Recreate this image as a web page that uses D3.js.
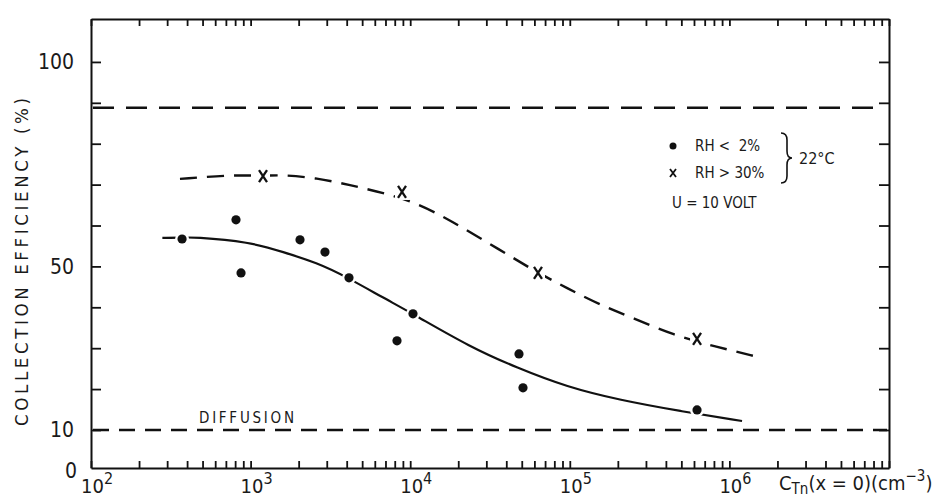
<!DOCTYPE html>
<html><head><meta charset="utf-8">
<script src="https://cdn.jsdelivr.net/npm/d3@7"></script>
<style>
html,body{margin:0;padding:0;background:#fff;}
svg{display:block;}
text{font-family:"Liberation Sans Narrow","DejaVu Sans Condensed","Liberation Sans",sans-serif;fill:#1a1a1a;}
</style></head>
<body>
<svg id="chart" width="949" height="498"></svg>
<script>
// ---- data ----
const dryConc = [372, 810, 871, 2040, 2925, 4135, 8265, 10410, 48050, 50900, 627000];
const dryEff  = [56.7, 61.4, 48.4, 56.5, 53.5, 47.2, 31.8, 38.4, 28.6, 20.3, 14.9];
const wetConc = [1196, 8885, 63200, 627000];
const wetEff  = [72.1, 68.2, 48.4, 32.3];
const dryCurveConc = [280, 370, 435, 990, 1600, 2600, 4000, 6800, 10400, 23700, 46700, 96000, 206000, 490000, 1200000];
const dryCurveEff  = [57, 57, 57.2, 56, 53.5, 50.9, 47.4, 42.3, 38.4, 30.3, 25.2, 20.5, 17.3, 14.6, 12.2];
const wetCurveConc = [361, 776, 1197, 1595, 2606, 4194, 6756, 11040, 17770, 36600, 63200, 96100, 154700, 248900, 443400, 835800, 1490000];
const wetCurveEff  = [71.4, 72.4, 72.1, 72.4, 71.6, 69.9, 68.0, 65.5, 61.3, 54.0, 48.4, 44.7, 40.6, 37.4, 33.2, 30.3, 27.9];
const upperLimit = 88.8;
const diffusionLimit = 10;
const xDecades = [2, 3, 4, 5, 6];
const yTickValues = [10, 20, 30, 40, 50, 60, 70, 80, 90, 100];
const yLabelValues = [0, 10, 50, 100];
const legendLines = ["RH <  2%", "RH > 30%"];

// ---- layout ----
const svg = d3.select("#chart");
const L = 91, R = 889, T = 19, B = 468;
const x = d3.scaleLog().domain([1e2, 1e7]).range([L, R]);
const y = d3.scaleLinear().domain([0.7, 110.5]).range([B, T]);

const minor = [];
for (let e = 2; e < 7; e++) for (let m = 1; m <= 9; m++) minor.push(m * Math.pow(10, e));
minor.push(1e7);

function styleAxis(g){
  g.selectAll(".domain").attr("stroke", "#111").attr("stroke-width", 2);
  g.selectAll(".tick line").attr("stroke", "#111").attr("stroke-width", 1.8);
  g.selectAll(".tick text").remove();
}
svg.append("g").attr("transform", `translate(0,${B})`)
  .call(d3.axisBottom(x).tickValues(minor).tickSize(-7).tickSizeOuter(0).tickFormat(""))
  .call(styleAxis);
svg.append("g").attr("transform", `translate(0,${T})`)
  .call(d3.axisTop(x).tickValues(minor).tickSize(-7).tickSizeOuter(0).tickFormat(""))
  .call(styleAxis);
svg.append("g").attr("transform", `translate(${L},0)`)
  .call(d3.axisLeft(y).tickValues(yTickValues).tickSize(-10).tickSizeOuter(0).tickFormat(""))
  .call(styleAxis);
svg.append("g").attr("transform", `translate(${R},0)`)
  .call(d3.axisRight(y).tickValues(yTickValues).tickSize(-10).tickSizeOuter(0).tickFormat(""))
  .call(styleAxis);

// y tick labels
svg.append("g").selectAll("text").data(yLabelValues).join("text")
  .attr("x", d => d === 0 ? 77 : 74)
  .attr("y", d => y(d) + 7.5)
  .attr("text-anchor", "end")
  .attr("font-size", 21)
  .text(d => d);

// x tick labels 10^n
const xl = svg.append("g").selectAll("text").data(xDecades).join("text")
  .attr("x", d => x(Math.pow(10, d)) - 10)
  .attr("y", 493)
  .attr("font-size", 20);
xl.append("tspan").text("10");
xl.append("tspan").attr("dy", -9).attr("font-size", 16).text(d => d);

// axis titles
svg.append("text")
  .attr("transform", "translate(28,262) rotate(-90)")
  .attr("text-anchor", "middle")
  .attr("font-family", "Liberation Sans, sans-serif")
  .attr("font-size", 18.5)
  .attr("textLength", 328).attr("lengthAdjust", "spacing")
  .text("COLLECTION  EFFICIENCY  (%)");

const xt = svg.append("text").attr("x", 779).attr("y", 490).attr("font-size", 20);
xt.append("tspan").text("C");
xt.append("tspan").attr("dy", 4).attr("font-size", 15).text("Tn");
xt.append("tspan").attr("dy", -4).text("(x = 0)(cm");
xt.append("tspan").attr("dy", -9).attr("font-size", 15).text("−3");
xt.append("tspan").attr("dy", 9).text(")");

// horizontal limit lines
svg.append("line")
  .attr("x1", L + 2).attr("x2", 874)
  .attr("y1", y(upperLimit)).attr("y2", y(upperLimit))
  .attr("stroke", "#111").attr("stroke-width", 2.4).attr("stroke-dasharray", "21,12");
svg.append("line")
  .attr("x1", L + 2).attr("x2", R - 2)
  .attr("y1", y(diffusionLimit)).attr("y2", y(diffusionLimit))
  .attr("stroke", "#111").attr("stroke-width", 2.4).attr("stroke-dasharray", "16,10");
svg.append("text").attr("x", 199).attr("y", 423).attr("font-family", "Liberation Sans, sans-serif")
  .attr("font-size", 15).attr("textLength", 95).attr("lengthAdjust", "spacing").text("DIFFUSION");

// curves
const line = d3.line().x(d => x(d[0])).y(d => y(d[1])).curve(d3.curveBasis);
svg.append("path")
  .datum(dryCurveConc.map((c, i) => [c, dryCurveEff[i]]))
  .attr("d", line).attr("fill", "none").attr("stroke", "#111").attr("stroke-width", 2.2);
svg.append("path")
  .datum(wetCurveConc.map((c, i) => [c, wetCurveEff[i]]))
  .attr("d", line).attr("fill", "none").attr("stroke", "#111").attr("stroke-width", 2.4)
  .attr("stroke-dasharray", "17,10");

// data points
const dots = svg.append("g").selectAll("g").data(dryConc.map((c, i) => [c, dryEff[i]])).join("g")
  .attr("transform", d => `translate(${x(d[0])},${y(d[1])})`);
dots.append("circle").attr("r", 7).attr("fill", "#fff");
dots.append("circle").attr("r", 4.6).attr("fill", "#111");
const cross = svg.append("g").selectAll("g").data(wetConc.map((c, i) => [c, wetEff[i]])).join("g")
  .attr("transform", d => `translate(${x(d[0])},${y(d[1])})`);
cross.append("rect").attr("x", -7).attr("y", -8).attr("width", 14).attr("height", 16).attr("fill", "#fff");
cross.append("path").attr("d", "M-4,-6L4,6M4,-6L-4,6").attr("stroke", "#111").attr("stroke-width", 2.3);

// legend
const lg = svg.append("g");
lg.append("circle").attr("cx", 673).attr("cy", 146).attr("r", 3.5).attr("fill", "#111");
lg.append("path").attr("d", "M670,169L676,177M676,169L670,177").attr("stroke", "#111").attr("stroke-width", 1.8);
lg.selectAll("text.lgt").data(legendLines).join("text").attr("class", "lgt")
  .attr("x", 695).attr("y", (d, i) => 151 + i * 27).attr("font-size", 15)
  .attr("xml:space", "preserve").style("white-space", "pre").text(d => d);
lg.append("text").attr("x", 672).attr("y", 208).attr("font-size", 15).text("U = 10 VOLT");
lg.append("path")
  .attr("d", "M781,133 Q787,133 787,140 L787,151 Q787,158 792,158 Q787,158 787,165 L787,176 Q787,183 781,183")
  .attr("fill", "none").attr("stroke", "#111").attr("stroke-width", 1.6);
lg.append("text").attr("x", 799).attr("y", 164).attr("font-size", 16).text("22°C");
</script>
</body></html>
